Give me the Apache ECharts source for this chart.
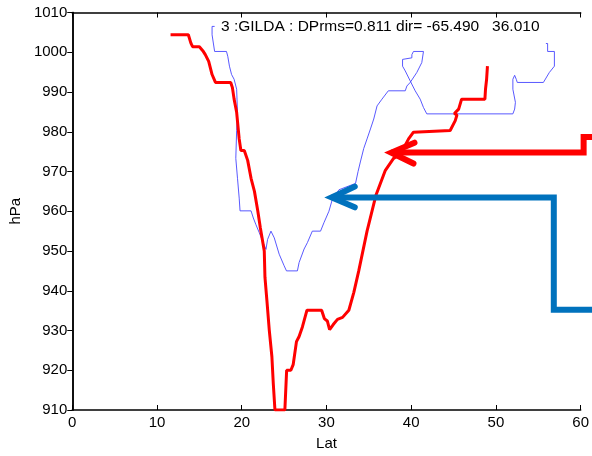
<!DOCTYPE html>
<html>
<head>
<meta charset="utf-8">
<script src="https://cdn.jsdelivr.net/npm/echarts@6/dist/echarts.min.js"></script>
<style>
html,body{margin:0;padding:0;background:#fff;}
#c{width:592px;height:456px;}
</style>
</head>
<body>
<div id="c"></div>
<script>
// ---- data (Lat, hPa) ----
var xTicks = [0, 10, 20, 30, 40, 50, 60];
var yTicks = [910, 920, 930, 940, 950, 960, 970, 980, 990, 1000, 1010];
var titleText = '3 :GILDA : DPrms=0.811 dir= -65.490   36.010';

var redTrack = [
  [11.6,1004.4],[13.7,1004.4],[14.0,1002.3],[14.2,1001.4],[15.0,1001.4],[15.4,1000.4],[15.7,999.4],
  [16.1,997.7],[16.5,994.4],[16.7,994.0],[16.9,992.4],[18.7,992.4],[18.9,991.1],[19.1,988.2],
  [19.4,984.9],[19.7,978.2],[19.9,975.3],[20.3,975.3],[20.7,972.8],[21.1,968.3],[21.5,965.0],
  [21.9,960.0],[22.2,955.8],[22.66,950.0],[22.74,943.4],[22.97,937.6],[23.25,930.1],[23.56,923.4],
  [23.72,916.8],[23.92,910.0],[25.09,910.0],[25.3,920.0],[25.8,920.0],[26.07,921.4],[26.46,927.2],
  [26.77,928.5],[27.16,930.9],[27.7,935.1],[29.43,935.1],[29.75,933.0],[30.1,932.4],[30.37,930.2],
  [30.8,931.5],[31.3,932.8],[31.9,933.3],[32.64,935.1],[33.23,939.6],[33.81,945.0],[34.79,955.0],
  [35.85,964.1],[36.95,970.3],[37.92,973.3],[38.51,974.1],[39.3,976.6],[39.69,978.2],[40.27,979.9],
  [40.47,980.3],[44.6,980.3],[45.2,982.8],[45.4,984.2],[45.1,984.6],[45.6,985.7],[45.95,988.2],
  [48.7,988.2],[48.77,990.7],[48.9,993.2],[49.0,996.5]
];

var blueTrack = [
  [16.8,1006.5],[16.5,1006.5],[16.5,1004.4],[16.8,1000.2],[18.2,1000.2],[18.35,999.0],[18.55,996.5],
  [18.8,994.4],[19.1,993.2],[19.4,990.7],[19.5,984.9],[19.4,980.3],[19.3,973.3],[19.5,968.3],
  [19.7,963.3],[19.8,960.1],[21.1,960.1],[21.37,958.3],[21.68,956.6],[22.07,954.6],[22.46,952.5],
  [22.86,950.4],[23.05,952.9],[23.45,955.0],[23.84,953.3],[24.42,949.2],[25.0,946.3],[25.28,945.0],
  [26.57,945.0],[26.77,947.1],[27.36,950.5],[27.75,952.1],[28.33,955.0],[29.3,955.0],[29.7,957.1],
  [30.29,960.0],[30.68,962.9],[31.47,965.4],[33.43,967.0],[33.73,970.0],[34.0,972.4],[34.4,975.8],
  [34.79,978.2],[35.19,980.7],[35.58,983.2],[35.97,986.5],[36.55,988.2],[37.3,990.3],[39.3,990.3],
  [39.49,991.5],[39.88,992.4],[40.66,994.9],[41.25,997.4],[41.45,1000.2],[40.27,1000.2],[40.08,999.4],
  [40.08,998.6],[38.98,998.2],[38.98,996.5],[39.3,995.3],[39.88,992.8],[40.47,990.3],[41.06,988.2],
  [41.45,986.1],[41.84,984.5],[52.0,984.5],[52.21,985.7],[52.3,987.4],[52.0,990.7],[52.0,993.2],
  [52.21,994.2],[52.4,993.2],[52.52,992.4],[55.6,992.4],[56.3,994.9],[56.9,996.5],[56.9,1000.2],
  [56.1,1000.2],[56.1,1002.2],[55.9,1002.2]
];

// annotation arrows (data coordinates; they run past the right edge of the axes)
var redArrowShaft = [[62.0,978.67],[60.35,978.67],[60.35,974.76],[37.65,974.76]];
var redArrowHead  = [[40.39,977.25],[37.65,974.76],[40.27,972.0]];
var blueArrowShaft = [[62.0,935.23],[56.83,935.23],[56.83,963.47],[30.61,963.47]];
var blueArrowHead  = [[33.34,966.2],[30.61,963.47],[33.34,961.0]];

var FONT = 'Liberation Sans, Arial, sans-serif';
var chart = echarts.init(document.getElementById('c'), null, {renderer:'canvas'});

function axisBase(show, inside, len){
  return {
    axisLine:{show:true, lineStyle:{color:'#000', width:1.5}},
    axisTick:{show:true, inside:inside, length:len, lineStyle:{color:'#000', width:1}},
    splitLine:{show:false},
    axisLabel:{show:show, color:'#000', fontSize:15, fontFamily:FONT, margin:5,
      formatter:function(v){return String(v);}}
  };
}

var XMIN = xTicks[0], XMAX = xTicks[xTicks.length-1];
var YMIN = yTicks[0], YMAX = yTicks[yTicks.length-1];

var option = {
  animation:false,
  backgroundColor:'#fff',
  grid:{left:72, right:9, top:12.5, bottom:42, containLabel:false},
  xAxis:[
    Object.assign(axisBase(true, true, 5), {type:'value', min:XMIN, max:XMAX, interval:10,
      position:'bottom', name:'Lat', nameLocation:'middle', nameGap:26,
      nameTextStyle:{color:'#000', fontSize:15, fontFamily:FONT}}),
    Object.assign(axisBase(false, true, 5), {type:'value', min:XMIN, max:XMAX, interval:10,
      position:'top'})
  ],
  yAxis:[
    Object.assign(axisBase(true, false, 4), {type:'value', min:YMIN, max:YMAX, interval:10,
      position:'left', name:'hPa', nameLocation:'middle', nameGap:46, nameRotate:90,
      nameTextStyle:{color:'#000', fontSize:15, fontFamily:FONT}}),
    Object.assign(axisBase(false, true, 5), {type:'value', min:YMIN, max:YMAX, interval:10,
      position:'right'})
  ],
  title:{
    text:titleText, left:221, top:19, padding:0,
    textStyle:{color:'#000', fontSize:15.5, fontWeight:'normal', fontFamily:FONT}
  },
  series:[
    {type:'line', data:blueTrack, showSymbol:false, symbol:'none', silent:true,
      lineStyle:{color:'#4646ff', width:0.9}, z:2},
    {type:'line', data:redTrack, showSymbol:false, symbol:'none', silent:true,
      lineStyle:{color:'#ff0000', width:3}, z:3}
  ]
};
chart.setOption(option);

// map data -> pixel through the library's axes (linear extrapolation past the extent)
var p0 = chart.convertToPixel({gridIndex:0}, [XMIN, YMIN]);
var p1 = chart.convertToPixel({gridIndex:0}, [XMAX, YMAX]);
function toPx(d){
  return [p0[0] + (d[0]-XMIN)/(XMAX-XMIN)*(p1[0]-p0[0]),
          p0[1] + (d[1]-YMIN)/(YMAX-YMIN)*(p1[1]-p0[1])];
}
function poly(pts, color, cap){
  return {type:'polyline', silent:true, z:10,
    shape:{points:pts.map(toPx)},
    style:{stroke:color, lineWidth:6, fill:null, lineCap:cap, lineJoin:'miter'}};
}
chart.setOption({graphic:[
  poly(redArrowShaft, '#ff0000', 'butt'),
  poly(redArrowHead, '#ff0000', 'round'),
  poly(blueArrowShaft, '#0072bd', 'butt'),
  poly(blueArrowHead, '#0072bd', 'round')
]});
</script>
</body>
</html>
